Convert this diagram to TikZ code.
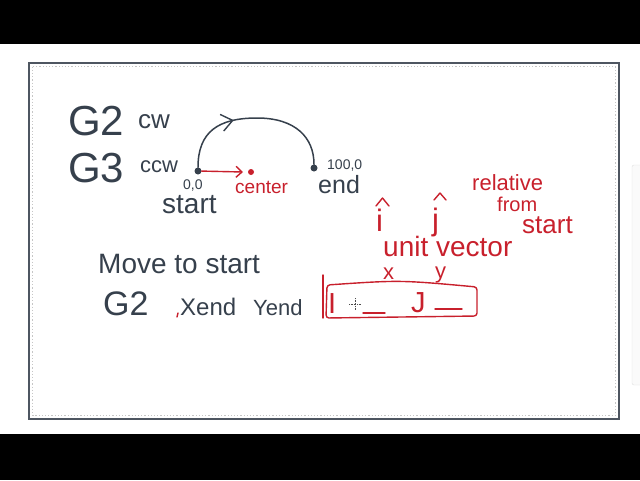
\documentclass[tikz,border=0pt]{standalone}
\usepackage{fontspec}
\setmainfont{Liberation Sans}
\usetikzlibrary{arrows.meta}
\usetikzlibrary{decorations.markings}
\definecolor{ink}{HTML}{36404C}
\definecolor{redink}{HTML}{C8202C}
\definecolor{framegray}{HTML}{4E5661}
\tikzset{
    pen/.style = {text=ink, inner sep=0pt, anchor=base west},
    redpen/.style = {text=redink, inner sep=0pt, anchor=base west},
    fsz/.style = {font=\fontsize{#1}{#1}\selectfont},
    dot/.style = {circle, fill=ink, inner sep=0pt, minimum size=7pt},
    reddot/.style = {circle, fill=redink, inner sep=0pt, minimum size=6pt},
    inkline/.style = {draw=ink, line width=1.5pt, line cap=round},
    redline/.style = {draw=redink, line width=1.4pt, line cap=round, line join=round},
    arcarrow/.style = {postaction={decorate},
      decoration={markings, mark=at position 0.38 with {\arrow{Straight Barb[length=11pt,width=17pt,line width=1.4pt]}}}}
}

\begin{document}
\begin{tikzpicture}[x=1pt,y=-1pt]
  \useasboundingbox (0,0) rectangle (640,480);
  % screen bars
  \fill[black] (0,0) rectangle (640,44);
  \fill[black] (0,434) rectangle (640,480);
  % page frame
  \draw[framegray, line width=2pt] (29,63) rectangle (619,419);
  \draw[gray!45, line width=1.2pt, dotted] (32.5,66.5) rectangle (615.5,415.5);
  \draw[gray!25, fill=gray!4, rounded corners=2pt] (632,165) rectangle (642,385);

  % left column
  \node[pen, fsz=42] (gtwo) at (68,135) {G2};
  \node[pen, fsz=26] (cw) at (138,128) {cw};
  \node[pen, fsz=42] (gthree) at (68,182) {G3};
  \node[pen, fsz=22] (ccw) at (140,172) {ccw};

  % the arc
  \node[dot] (st) at (198,171) {};
  \node[dot] (en) at (314,168) {};
  \node[reddot] (ce) at (251,172) {};
  \draw[inkline, arcarrow] (st) .. controls (198,132) and (218,118) .. (257,118)
                               .. controls (296,118) and (314,138) .. (en);
  \draw[redline, -{Straight Barb[length=6pt,width=11pt]}] (st) -- (243,172);
  \node[pen, fsz=14] (zero) at (183,189) {0,0};
  \node[pen, fsz=28] (start) at (162,213) {start};
  \node[redpen, fsz=19] (center) at (235,193) {center};
  \node[pen, fsz=14] (hundred) at (327,169) {100,0};
  \node[pen, fsz=25] (endl) at (318,193) {end};

  % move / G2 line
  \node[pen, fsz=28] (move) at (98,273) {Move to start};
  \node[pen, fsz=34] (gtwob) at (103,315) {G2};
  \node[pen, fsz=24] (xend) at (180,315) {Xend};
  \node[pen, fsz=22] (yend) at (253,315) {Yend};
  \draw[redline] (178,313) -- (177,317);

  % right side notes
  \node[redpen, fsz=22] (rel) at (472,190) {relative};
  \node[redpen, fsz=20] (from) at (497,211) {from};
  \node[redpen, fsz=26] (rstart) at (522,233) {start};
  \node[redpen, fsz=31] (ihat) at (376,231) {i};
  \node[redpen, fsz=31] (jhat) at (432,230) {j};
  \draw[redline] (376,206) -- (382.5,198) -- (389,206);
  \draw[redline] (434,200) -- (440,193) -- (446,200);
  \node[redpen, fsz=28] (unit) at (383,256) {unit vector};
  \node[redpen, fsz=22] (ux) at (383,279) {x};
  \node[redpen, fsz=22] (uy) at (435,278) {y};

  % I J box
  \draw[redline] (323,275) -- (323,318);
  \draw[redline, rounded corners=3pt] (327,285) .. controls (400,280) .. (477,287)
        -- (477,316) -- (326,318) -- cycle;
  \node[redpen, fsz=29] (ii) at (328,313) {I};
  \node[redpen, fsz=29] (jj) at (411,312) {J};
  \draw[redline] (363,313) -- (385,313);
  \draw[redline] (435,309) -- (462,309);
  % mouse cursor
  \draw[black!70, line width=0.6pt, densely dotted] (349,304) -- (361,304) (355,298) -- (355,310);
\end{tikzpicture}
\end{document}
